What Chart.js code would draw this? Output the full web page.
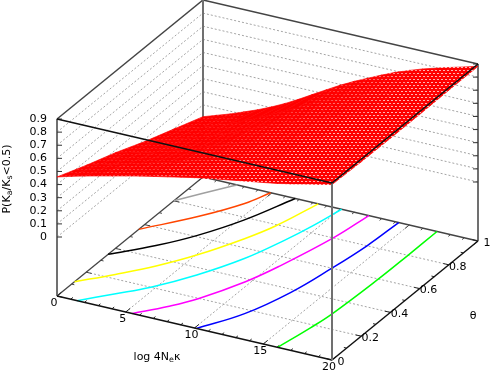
<!DOCTYPE html>
<html>
<head>
<meta charset="utf-8">
<title>P(Ka/Ks<0.5) surface</title>
<script src="https://cdn.jsdelivr.net/npm/chart.js@4/dist/chart.umd.min.js"></script>
<style>
  html, body { margin: 0; padding: 0; background: #fff; }
  canvas { display: block; }
</style>
</head>
<body>
<canvas id="surfaceChart" width="491" height="370"></canvas>
<script>
// Tick values and labels
const xTicks = [0, 5, 10, 15, 20];
const xMinorTicks = [1, 2, 3, 4, 6, 7, 8, 9, 11, 12, 13, 14, 16, 17, 18, 19];
const thetaTicks = [0, 0.2, 0.4, 0.6, 0.8, 1];
const thetaMinorTicks = [0.1, 0.3, 0.5, 0.7, 0.9];
const zTicks = [0, 0.1, 0.2, 0.3, 0.4, 0.5, 0.6, 0.7, 0.8, 0.9];
const xTickLabels = ['0', '5', '10', '15', '20'];
const thetaTickLabels = ['0', '0.2', '0.4', '0.6', '0.8', '1'];
const zTickLabels = ['0', '0.1', '0.2', '0.3', '0.4', '0.5', '0.6', '0.7', '0.8', '0.9'];

// Surface heights, one row per theta
const xGrid = [0, 1, 2, 3, 4, 5, 6, 7, 8, 9, 10, 11, 12, 13, 14, 15, 16, 17, 18, 19, 20];
const thetaGrid = [0, 0.2, 0.4, 0.6, 0.8, 1];
const zTheta00 = [0.458, 0.487, 0.514, 0.539, 0.563, 0.588, 0.611, 0.633, 0.654, 0.676, 0.697, 0.715, 0.732, 0.749, 0.766, 0.782, 0.799, 0.82, 0.843, 0.866, 0.888];
const zTheta02 = [0.365, 0.395, 0.423, 0.451, 0.478, 0.507, 0.536, 0.566, 0.595, 0.623, 0.649, 0.675, 0.699, 0.721, 0.742, 0.764, 0.785, 0.807, 0.829, 0.853, 0.88];
const zTheta04 = [0.28, 0.306, 0.333, 0.359, 0.387, 0.423, 0.462, 0.5, 0.538, 0.573, 0.607, 0.638, 0.668, 0.698, 0.727, 0.752, 0.776, 0.8, 0.825, 0.851, 0.878];
const zTheta06 = [0.183, 0.215, 0.247, 0.28, 0.314, 0.352, 0.392, 0.435, 0.478, 0.521, 0.563, 0.602, 0.64, 0.676, 0.711, 0.741, 0.769, 0.795, 0.82, 0.848, 0.878];
const zTheta08 = [0.097, 0.128, 0.16, 0.197, 0.236, 0.28, 0.327, 0.377, 0.428, 0.48, 0.531, 0.576, 0.618, 0.658, 0.698, 0.733, 0.766, 0.796, 0.825, 0.853, 0.882];
const zTheta10 = [0.01, 0.045, 0.08, 0.12, 0.161, 0.207, 0.258, 0.315, 0.376, 0.436, 0.495, 0.548, 0.597, 0.645, 0.69, 0.729, 0.765, 0.796, 0.825, 0.853, 0.882];
const zRows = [zTheta00, zTheta02, zTheta04, zTheta06, zTheta08, zTheta10];

// Contour lines on the base, [log 4Neк, theta] pairs
const contour08 = [[16.04, 0], [16.55, 0.18], [16.8, 0.3], [17, 0.59], [17.03, 0.8], [17.02, 1]];
const contour07 = [[10.15, 0], [11.84, 0.17], [12.98, 0.38], [13.62, 0.6], [14.05, 0.8], [14.23, 1]];
const contour06 = [[5.48, 0], [7, 0.1], [8.2, 0.2], [9.67, 0.38], [10.5, 0.53], [11.6, 0.8], [12.06, 1]];
const contour05 = [[1.46, 0], [3.1, 0.1], [4.7, 0.2], [6.45, 0.35], [8, 0.53], [9, 0.71], [9.6, 0.85], [10.08, 1]];
const contour04 = [[0, 0.12], [1.8, 0.23], [3.56, 0.35], [5.06, 0.48], [6.63, 0.66], [7.5, 0.79], [8.38, 1]];
const contour03 = [[0, 0.35], [2.1, 0.48], [3.74, 0.61], [5.3, 0.78], [6.71, 1]];
const contour02 = [[0, 0.56], [2.54, 0.74], [4.2, 0.89], [4.92, 1]];
const contour01 = [[0, 0.8], [2.2, 0.98], [2.5, 1]];
const contourColors = ['#00ff00', '#0000ff', '#ff00ff', '#00ffff', '#ffff00', '#000000', '#ff4500', '#a0a0a0'];
const contours = [contour08, contour07, contour06, contour05, contour04, contour03, contour02, contour01];

// View of the box: where the unit steps of each axis land on the page
const viewOrigin = [57, 296];
const viewPerX = [13.75, 3.2];
const viewPerTheta = [146, -119];
const viewPerZ = -131.1;
const zBase = -0.45;
const zTop = 0.9;

function project(x, theta, z) {
  return {
    x: viewOrigin[0] + viewPerX[0] * x + viewPerTheta[0] * theta,
    y: viewOrigin[1] + viewPerX[1] * x + viewPerTheta[1] * theta + viewPerZ * (z - zBase)
  };
}

// Stipple the mesh leaves where its cells open up
function makeStipple(alpha) {
  const tile = document.createElement('canvas');
  tile.width = 8;
  tile.height = 6;
  const g = tile.getContext('2d');
  g.fillStyle = '#ff0000';
  g.fillRect(0, 0, 8, 6);
  g.fillStyle = 'rgba(255,255,255,' + alpha + ')';
  g.fillRect(1, 1, 2, 1);
  g.fillRect(5, 1, 2, 1);
  g.fillRect(3, 4, 2, 1);
  g.fillRect(7, 4, 1, 1);
  g.fillRect(0, 4, 1, 1);
  return document.getElementById('surfaceChart').getContext('2d').createPattern(tile, 'repeat');
}
const stipples = [0, 0.12, 0.25, 0.4, 0.55, 0.7].map(makeStipple);

const layers = [];
function addLine(points, color, width, dash, tension) {
  layers.push({
    data: points,
    showLine: true,
    borderColor: color,
    borderWidth: width,
    borderDash: dash || [],
    tension: tension || 0,
    pointRadius: 0,
    fill: false,
    clip: false
  });
}
function addSegment(a, b, color, width, dash) {
  addLine([project(a[0], a[1], a[2]), project(b[0], b[1], b[2])], color, width, dash);
}

const gridColor = '#a4a4a4';
const gridDash = [2, 2];
const backColor = '#444444';
const poleColor = '#707070';

// Grid on the base
xTicks.slice(1, -1).forEach(x => addSegment([x, 0, zBase], [x, 1, zBase], gridColor, 1, gridDash));
thetaTicks.slice(1, -1).forEach(t => addSegment([0, t, zBase], [20, t, zBase], gridColor, 1, gridDash));

// Grid on the two back walls
zTicks.slice(0, -1).forEach(z => {
  addSegment([0, 0, z], [0, 1, z], gridColor, 1, gridDash);
  addSegment([0, 1, z], [20, 1, z], gridColor, 1, gridDash);
});

// Back edges of the box and the poles behind the surface
addSegment([0, 0, zBase], [0, 1, zBase], backColor, 1.3);
addSegment([0, 1, zBase], [20, 1, zBase], backColor, 1.3);
addSegment([0, 0, zTop], [0, 1, zTop], backColor, 1.5);
addSegment([0, 1, zTop], [20, 1, zTop], backColor, 1.5);
addSegment([0, 0, zBase], [0, 0, zTop], poleColor, 2);
addSegment([0, 1, zBase], [0, 1, zTop], poleColor, 2);
addSegment([20, 1, zBase], [20, 1, zTop], poleColor, 2);

// Ticks
xTicks.forEach(x => {
  addSegment([x, 0, zBase], [x, 0.03, zBase], '#222222', 1);
  addSegment([x, 1, zBase], [x, 0.97, zBase], backColor, 1);
});
xMinorTicks.forEach(x => {
  addSegment([x, 0, zBase], [x, 0.015, zBase], '#222222', 1);
  addSegment([x, 1, zBase], [x, 0.985, zBase], backColor, 1);
});
thetaTicks.forEach(t => {
  addSegment([20, t, zBase], [19.6, t, zBase], '#222222', 1);
  addSegment([0, t, zBase], [0.4, t, zBase], backColor, 1);
});
thetaMinorTicks.forEach(t => {
  addSegment([20, t, zBase], [19.8, t, zBase], '#222222', 1);
  addSegment([0, t, zBase], [0.2, t, zBase], backColor, 1);
});
zTicks.forEach(z => {
  const left = project(0, 0, z);
  const right = project(20, 1, z);
  addLine([left, { x: left.x + 5, y: left.y }], '#333333', 1);
  addLine([right, { x: right.x - 5, y: right.y }], '#333333', 1);
});

// Contours
contours.forEach((c, i) => {
  addLine(c.map(p => project(p[0], p[1], zBase)), contourColors[i], 1.5, null, 0.4);
});

// Surface, one closed dataset per grid cell; the bigger the cell on the page, the more stipple
function cellArea(p) {
  let sum = 0;
  for (let i = 0; i < 4; i++) sum += p[i].x * p[i + 1].y - p[i + 1].x * p[i].y;
  return Math.abs(sum) / 2;
}
const cells = [];
for (let t = 0; t < thetaGrid.length - 1; t++) {
  for (let i = 0; i < xGrid.length - 1; i++) {
    const pts = [
      project(xGrid[i], thetaGrid[t], zRows[t][i]),
      project(xGrid[i + 1], thetaGrid[t], zRows[t][i + 1]),
      project(xGrid[i + 1], thetaGrid[t + 1], zRows[t + 1][i + 1]),
      project(xGrid[i], thetaGrid[t + 1], zRows[t + 1][i]),
      project(xGrid[i], thetaGrid[t], zRows[t][i])
    ];
    cells.push({ pts, area: cellArea(pts) });
  }
}
const areas = cells.map(c => c.area);
const minArea = Math.min(...areas);
const maxArea = Math.max(...areas);
cells.forEach(c => {
  const level = Math.round((c.area - minArea) / (maxArea - minArea) * (stipples.length - 1));
  addLine(c.pts, stipples[level], 0.7);
  layers[layers.length - 1].cellFill = stipples[level];
});

// Front edges, drawn over everything
addSegment([0, 0, zBase], [20, 0, zBase], '#111111', 1.5);
addSegment([20, 0, zBase], [20, 1, zBase], '#111111', 1.5);
addSegment([20, 0, zBase], [20, 0, zTop], poleColor, 2);
addSegment([0, 0, zTop], [20, 0, zTop], '#111111', 1.5);
addSegment([20, 0, zTop], [20, 1, zTop], '#111111', 1.5);

// Later layers paint over earlier ones
layers.forEach((d, i) => { d.order = layers.length - i; });

// Fills the surface cells with their stipple just before their outline is stroked
const cellFillPlugin = {
  id: 'cellFill',
  beforeDatasetDraw(chart, args) {
    const ds = chart.data.datasets[args.index];
    if (!ds.cellFill) return;
    const ctx = chart.ctx;
    const pts = args.meta.data;
    ctx.save();
    ctx.beginPath();
    pts.forEach((p, i) => { if (i === 0) ctx.moveTo(p.x, p.y); else ctx.lineTo(p.x, p.y); });
    ctx.closePath();
    ctx.fillStyle = ds.cellFill;
    ctx.fill();
    ctx.restore();
  }
};

// Writes a label with subscript runs, centred on (0, 0) of the current transform
function drawRuns(ctx, runs, size) {
  const font = s => s + "px 'DejaVu Sans'";
  let total = 0;
  runs.forEach(r => {
    ctx.font = font(r.sub ? size * 0.72 : size);
    total += ctx.measureText(r.text).width;
  });
  let pos = -total / 2;
  ctx.textAlign = 'left';
  ctx.textBaseline = 'middle';
  runs.forEach(r => {
    ctx.font = font(r.sub ? size * 0.72 : size);
    ctx.fillText(r.text, pos, r.sub ? 3 : 0);
    pos += ctx.measureText(r.text).width;
  });
}

const axisTextPlugin = {
  id: 'axisText',
  afterDraw(chart) {
    const ctx = chart.ctx;
    const sx = chart.scales.x;
    const sy = chart.scales.y;
    const put = (text, p, dx, dy, align) => {
      ctx.textAlign = align || 'center';
      ctx.fillText(text, sx.getPixelForValue(p.x) + dx, sy.getPixelForValue(p.y) + dy);
    };
    ctx.save();
    ctx.fillStyle = '#000';
    ctx.font = "11px 'DejaVu Sans'";
    ctx.textBaseline = 'middle';
    xTicks.forEach((x, i) => put(xTickLabels[i], project(x, 0, zBase), -3, 7.5));
    thetaTicks.forEach((t, i) => put(thetaTickLabels[i], project(20, t, zBase), 9, 2));
    zTicks.forEach((z, i) => put(zTickLabels[i], project(0, 0, z), -10, 0, 'right'));
    put('θ', project(20, 0.5, zBase), 68, 16);

    ctx.translate(sx.getPixelForValue(157), sy.getPixelForValue(357));
    drawRuns(ctx, [{ text: 'log 4N' }, { text: 'e', sub: true }, { text: 'κ' }], 11);
    ctx.setTransform(1, 0, 0, 1, 0, 0);
    ctx.translate(sx.getPixelForValue(7), sy.getPixelForValue(179));
    ctx.rotate(-Math.PI / 2);
    drawRuns(ctx, [{ text: 'P(K' }, { text: 'a', sub: true }, { text: '/K' }, { text: 's', sub: true }, { text: '<0.5)' }], 11);
    ctx.restore();
  }
};

new Chart(document.getElementById('surfaceChart'), {
  type: 'scatter',
  data: { datasets: layers },
  options: {
    responsive: false,
    animation: false,
    layout: { padding: 0 },
    plugins: {
      legend: { display: false },
      tooltip: { enabled: false }
    },
    scales: {
      x: { type: 'linear', min: 0, max: 491, display: false },
      y: { type: 'linear', min: 0, max: 370, reverse: true, display: false }
    }
  },
  plugins: [cellFillPlugin, axisTextPlugin]
});
</script>
</body>
</html>
